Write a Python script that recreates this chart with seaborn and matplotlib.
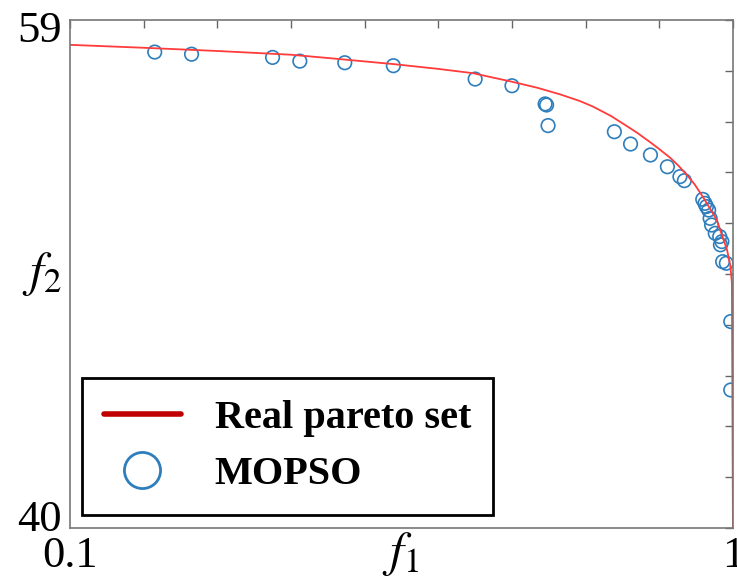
import numpy as np
import pandas as pd
import seaborn as sns
import matplotlib.pyplot as plt
import matplotlib.transforms as mtransforms
from matplotlib.lines import Line2D

sns.set_theme(style="white")
plt.rcParams['font.family'] = ['Liberation Serif', 'DejaVu Serif']
plt.rcParams['mathtext.fontset'] = 'stix'
plt.rcParams['text.color'] = 'black'
plt.rcParams['axes.labelcolor'] = 'black'

# real pareto front
front_f1 = [0.1, 0.2, 0.3, 0.4, 0.453, 0.539, 0.6, 0.647, 0.7, 0.735, 0.765,
            0.792, 0.81, 0.835, 0.856, 0.87, 0.887, 0.9, 0.915, 0.926, 0.937,
            0.948, 0.96, 0.978, 0.992, 0.9965, 0.9986, 1.0]
front_f2 = [58.07, 57.96, 57.84, 57.70, 57.57, 57.35, 57.17, 57.01, 56.69,
            56.46, 56.22, 55.97, 55.76, 55.40, 55.03, 54.78, 54.44, 54.17,
            53.84, 53.55, 53.22, 52.85, 52.35, 51.52, 50.40, 49.80, 49.16, 40.0]

# MOPSO solutions
mopso_f1 = [0.215, 0.265, 0.375, 0.412, 0.473, 0.539, 0.650, 0.700, 0.745,
            0.747, 0.749, 0.839, 0.861, 0.888, 0.911, 0.928, 0.934, 0.959,
            0.962, 0.964, 0.967, 0.969, 0.971, 0.976, 0.982, 0.985, 0.983,
            0.986, 0.991, 0.997, 0.997]
mopso_f2 = [57.80, 57.72, 57.60, 57.46, 57.40, 57.29, 56.79, 56.54, 55.86,
            55.82, 55.05, 54.82, 54.36, 53.95, 53.51, 53.14, 52.99, 52.29,
            52.14, 52.02, 51.89, 51.58, 51.33, 51.02, 50.90, 50.71, 50.59,
            49.96, 49.90, 47.72, 45.16]

front = pd.DataFrame({'f1': front_f1, 'f2': front_f2})
mopso = pd.DataFrame({'f1': mopso_f1, 'f2': mopso_f2})

fig = plt.figure(figsize=(7.37, 5.84), dpi=100)
ax = fig.add_axes([0.095, 0.096, 0.8995, 0.8698])

blue = '#2e7ebc'
sns.lineplot(data=front, x='f1', y='f2', sort=False, estimator=None,
             color='#ff3b3b', linewidth=1.3, ax=ax)
sns.scatterplot(data=mopso, x='f1', y='f2', marker='o', s=95,
                facecolors='none', edgecolor=blue, linewidth=1.2, ax=ax)

ax.set_xlim(0.1, 1.0)
ax.set_ylim(40, 59)
ax.set_xticks(np.linspace(0.1, 1.0, 10))
ax.set_xticklabels(['0.1'] + [''] * 8 + ['1'])
ax.set_yticks(np.linspace(40, 59, 11))
ax.set_yticklabels(['40'] + [''] * 9 + ['59'])
ax.tick_params(direction='in', length=6, width=1, color='#666666',
               labelcolor='black', top=True, right=True, labelsize=32, pad=6)
for sp in ax.spines.values():
    sp.set_color('#777777')
    sp.set_linewidth(1.2)

# nudge the y end labels inward like the original
ylabs = ax.get_yticklabels()
ylabs[0].set_transform(ylabs[0].get_transform() +
                       mtransforms.ScaledTranslation(0, 0.12, fig.dpi_scale_trans))
ylabs[-1].set_transform(ylabs[-1].get_transform() +
                        mtransforms.ScaledTranslation(0, -0.07, fig.dpi_scale_trans))

ax.set_xlabel('$f_1$', fontsize=36, va='top')
ax.xaxis.set_label_coords(0.498, -0.005)
ax.set_ylabel('$f_2$', fontsize=36, rotation=0, ha='right', va='center')
ax.yaxis.set_label_coords(-0.012, 0.5)

handles = [Line2D([], [], color='#c00000', lw=4),
           Line2D([], [], color=blue, marker='o', ls='none', ms=26,
                  mfc='none', mew=2)]
leg = ax.legend(handles, ['Real pareto set', 'MOPSO'], loc='lower left',
                bbox_to_anchor=(0.018, 0.0256), borderaxespad=0,
                fancybox=False, framealpha=1, edgecolor='black',
                prop={'weight': 'bold', 'size': 29}, handlelength=1.9,
                handletextpad=0.85, labelspacing=0.45, borderpad=0.55)
leg.get_frame().set_linewidth(2)

fig.savefig('out.png', dpi=100)
